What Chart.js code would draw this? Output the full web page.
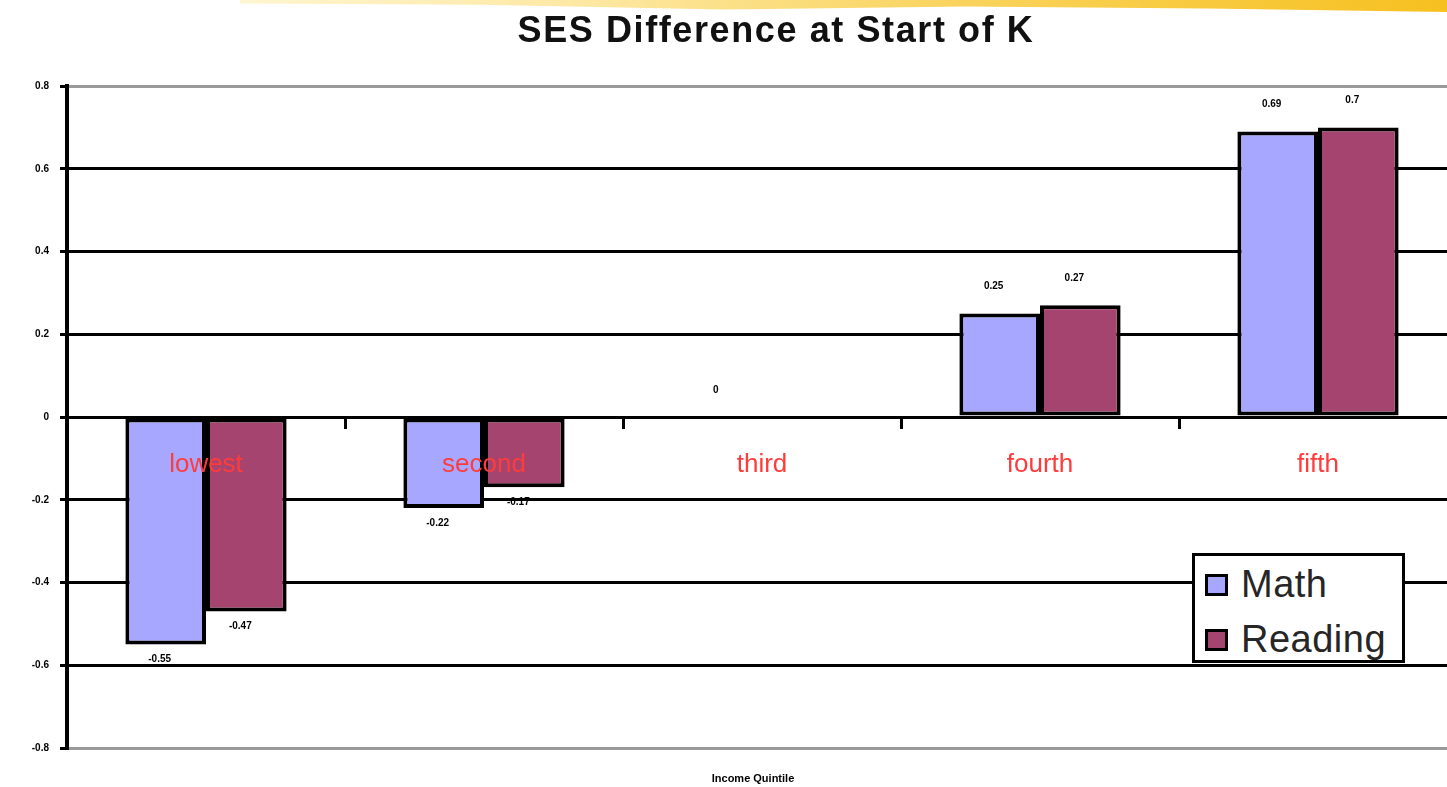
<!DOCTYPE html>
<html>
<head>
<meta charset="utf-8">
<script src="https://cdn.jsdelivr.net/npm/chart.js@4"></script>
<style>
    html, body { margin: 0; padding: 0; background: #fff; overflow: hidden; }
    #wrap { position: relative; width: 1447px; height: 787px; overflow: hidden; }
    #stroke {
        position: absolute; left: 240px; top: 0; width: 1207px; height: 12px;
        background: linear-gradient(90deg, #fff6d0 0%, #fde7a0 30%, #f9d35c 60%, #f6c020 100%);
        clip-path: polygon(0 0, 100% 0, 100% 100%, 80% 70%, 60% 55%, 40% 80%, 20% 40%, 0 30%);
    }
    #title {
        position: absolute; left: 496px; top: 9px; width: 560px; text-align: center;
        font: bold 36px "Liberation Sans", Arial, sans-serif; letter-spacing: 1.6px;
        color: #111; white-space: nowrap;
    }
    #legend {
        position: absolute; left: 1192px; top: 553px; width: 207px; height: 104px;
        border: 3px solid #000; background: #fff;
    }
    .item { position: absolute; left: 10px; display: flex; align-items: center; }
    .swatch { width: 17px; height: 16px; border: 3px solid #000; margin-right: 13px; }
    .item span { font: 38px "Liberation Sans", Arial, sans-serif; letter-spacing: 0.5px; color: #262626; }
</style>
</head>
<body>
<div id="wrap">
    <div id="stroke"></div>
    <canvas id="chart" width="1460" height="787"></canvas>
    <div id="title">SES Difference at Start of K</div>
    <div id="legend"></div>
</div>
<script>
const categories = ["lowest", "second", "third", "fourth", "fifth"];
const mathValues = [-0.55, -0.22, 0, 0.25, 0.69];
const readingValues = [-0.47, -0.17, 0, 0.27, 0.7];
const yTicks = [0.8, 0.6, 0.4, 0.2, 0, -0.2, -0.4, -0.6, -0.8];
const axisTitle = "Income Quintile";

const MATH_COLOR = "#a7a7ff";
const READING_COLOR = "#a4446f";

// value labels above / below each bar, plus the x axis title
const valueLabels = {
    id: "valueLabels",
    afterDatasetsDraw(chart) {
        const ctx = chart.ctx;
        ctx.save();
        ctx.font = "bold 10px 'Liberation Sans', Arial, sans-serif";
        ctx.fillStyle = "#000";
        ctx.textAlign = "center";
        ctx.textBaseline = "middle";
        chart.data.datasets.forEach((ds, i) => {
            chart.getDatasetMeta(i).data.forEach((bar, j) => {
                const v = ds.data[j];
                if (v === 0 && i > 0) return;
                const y = v < 0 ? bar.y + 15 : bar.y - 27;
                ctx.fillText(String(v), bar.x - 6, y);
            });
        });
        ctx.font = "bold 11px 'Liberation Sans', Arial, sans-serif";
        ctx.fillText(axisTitle, 753, 779);
        ctx.restore();
    },
};

new Chart(document.getElementById("chart"), {
    type: "bar",
    data: {
        labels: categories,
        datasets: [
            {
                label: "Math",
                data: mathValues,
                backgroundColor: MATH_COLOR,
                borderColor: "#000",
                borderWidth: 4,
                borderSkipped: false,
            },
            {
                label: "Reading",
                data: readingValues,
                backgroundColor: READING_COLOR,
                borderColor: "#000",
                borderWidth: 4,
                borderSkipped: false,
            },
        ],
    },
    options: {
        responsive: false,
        animation: false,
        layout: { padding: { left: 0, top: 86, right: 3, bottom: 39 } },
        datasets: { bar: { barPercentage: 1, categoryPercentage: 0.58 } },
        plugins: {
            legend: { display: false },
            title: { display: false },
            tooltip: { enabled: false },
        },
        scales: {
            x: {
                position: { y: 0 },
                grid: {
                    offset: true,
                    drawOnChartArea: false,
                    drawTicks: true,
                    tickLength: 12,
                    color: "#000",
                    lineWidth: 3,
                    z: 1,
                },
                border: { display: false },
                ticks: {
                    z: 1,
                    color: "#ff3b3b",
                    padding: 20,
                    font: { family: "'Liberation Sans', Arial, sans-serif", size: 26 },
                },
            },
            y: {
                min: -0.8,
                max: 0.8,
                afterFit(scale) { scale.width = 67; },
                afterBuildTicks(scale) {
                    scale.ticks = yTicks.map((v) => ({ value: v }));
                },
                grid: {
                    color: (c) => (Math.abs(c.tick.value) === 0.8 ? "#9a9a9a" : "#000"),
                    lineWidth: 3,
                    tickLength: 7,
                    tickColor: "#000",
                },
                border: { display: true, color: "#000", width: 4 },
                ticks: {
                    color: "#000",
                    padding: 11,
                    font: { family: "'Liberation Sans', Arial, sans-serif", size: 10, weight: "bold" },
                    callback: (v) => String(Math.round(v * 10) / 10),
                },
            },
        },
    },
    plugins: [valueLabels],
});

// legend box built from the datasets
const legend = document.getElementById("legend");
[["Math", MATH_COLOR, 7], ["Reading", READING_COLOR, 62]].forEach(([name, color, top]) => {
    const item = document.createElement("div");
    item.className = "item";
    item.style.top = top + "px";
    item.innerHTML = '<div class="swatch" style="background:' + color + '"></div><span>' + name + "</span>";
    legend.appendChild(item);
});
</script>
</body>
</html>
